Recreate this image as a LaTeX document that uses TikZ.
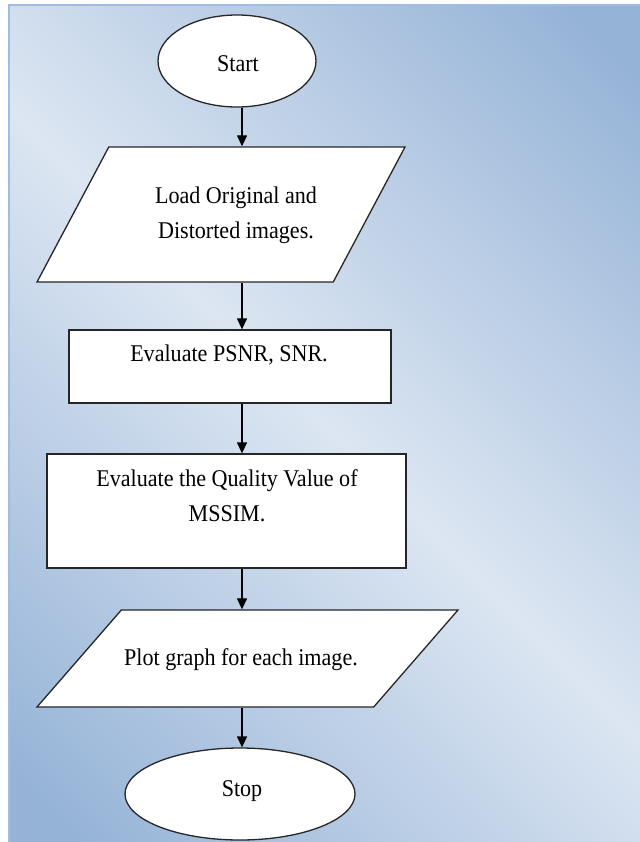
\documentclass[tikz,border=0pt]{standalone}
\usepackage{fontspec}
\setmainfont{Liberation Serif}[FakeStretch=0.92]
\usetikzlibrary{shapes.geometric,arrows.meta,positioning}
\definecolor{paneldark}{RGB}{149,179,215}
\definecolor{panellight}{RGB}{220,230,242}
\definecolor{paneledge}{RGB}{160,188,224}
\pgfdeclarehorizontalshading{panelshade}{100bp}{color(0bp)=(paneldark); color(18bp)=(paneldark); color(50bp)=(panellight); color(82bp)=(paneldark); color(100bp)=(paneldark)}

\begin{document}
\begin{tikzpicture}[x=1pt, y=-1pt,
  terminal/.style={draw=black!85, line width=1.3pt, fill=white, ellipse, inner sep=0pt},
  io/.style={draw=black!85, line width=1.3pt, fill=white, trapezium, trapezium stretches body, inner xsep=0pt},
  process/.style={draw=black!85, line width=1.3pt, fill=white, rectangle, inner sep=0pt},
  txt/.style={align=center, inner sep=0pt},
  arrow/.style={-{Triangle[length=11pt,width=10pt]}, line width=1.3pt},
  font=\fontsize{24}{35}\selectfont
]
  \useasboundingbox (0,0) rectangle (639,842);

  % Background panel
  \path[shading=panelshade, shading angle=45, draw=paneledge, line width=2pt] (9,5) rectangle (645,848);

  % Start / Stop
  \node[terminal, minimum width=158, minimum height=92] (start) at (237,61) {};
  \node[txt] (starttext) at (238,64) {Start};
  \node[terminal, minimum width=230, minimum height=92] (stop) at (240,794) {};
  \node[txt] (stoptext) at (242,791) {Stop};

  % Input
  \node[io, trapezium left angle=62, trapezium right angle=118, inner ysep=67.5pt, minimum width=368] (load) at (221,214.5) {};
  \node[txt] (loadtext) at (236,215) {Load Original and\\Distorted images.};

  % Processing
  \node[process, minimum width=322, minimum height=73] (psnr) at (230,366.5) {};
  \node[txt] (psnrtext) at (229,355) {Evaluate PSNR, SNR.};
  \node[process, minimum width=359, minimum height=114] (quality) at (226.5,511) {};
  \node[txt] (qualitytext) at (227,496) {Evaluate the Quality Value of\\MSSIM.};

  % Output
  \node[io, trapezium left angle=49, trapezium right angle=131, inner ysep=48.5pt, minimum width=421] (plot) at (247.5,658.5) {};
  \node[txt] (plottext) at (241,660) {Plot graph for each image.};

  % Arrows
  \coordinate (spine) at (242,0);
  \draw[arrow] (spine |- start.south) -- (spine |- load.north);
  \draw[arrow] (spine |- load.south) -- (spine |- psnr.north);
  \draw[arrow] (spine |- psnr.south) -- (spine |- quality.north);
  \draw[arrow] (spine |- quality.south) -- (spine |- plot.north);
  \draw[arrow] (spine |- plot.south) -- (spine |- stop.north);
\end{tikzpicture}
\end{document}
